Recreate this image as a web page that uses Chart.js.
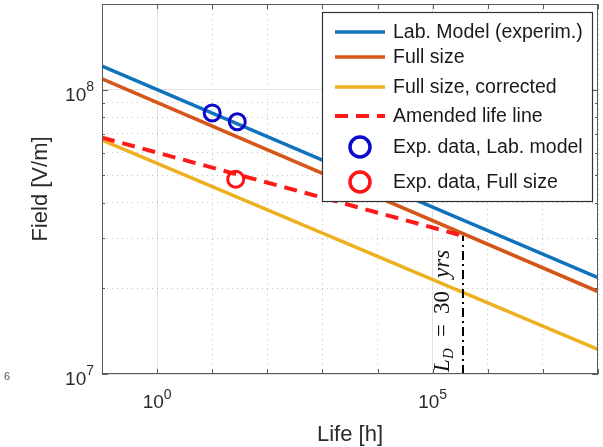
<!DOCTYPE html>
<html>
<head>
<meta charset="utf-8">
<script src="https://cdn.jsdelivr.net/npm/chart.js@4.4.0/dist/chart.umd.min.js"></script>
<style>
  html, body { margin: 0; padding: 0; background: #fff; }
</style>
</head>
<body>
<canvas id="lifeChart" width="603" height="447"></canvas>
<script>
// life [h] at the two ends of each life line
const lifeEnds = [0.1, 1e8];
const labModel = [1.21e8, 2.18e7];
const fullSize = [1.09e8, 1.95e7];
const fullSizeCorrected = [6.65e7, 1.22e7];
// amended line stops at the design life
const amendedLife = [0.1, 3.55e5];
const amendedField = [6.78e7, 3.06e7];
const expLabLife = [10, 28.5];
const expLabField = [8.28e7, 7.71e7];
const expFullLife = [26.7];
const expFullField = [4.84e7];
const designLife = 3.55e5;
const designField = [1e7, 3.06e7];

const xMajorTicks = [1, 1e5];
const xMinorTicks = [0.1, 10, 100, 1000, 1e4, 1e6, 1e7, 1e8];
const yMajorTicks = [1e7, 1e8];
const yMinorTicks = [2e7, 3e7, 4e7, 5e7, 6e7, 7e7, 8e7, 9e7, 2e8];
const xTickExp = ['0', '5'];
const yTickExp = ['7', '8'];

const FONT = '"Liberation Sans", Arial, sans-serif';

function pts(xs, ys) {
  return xs.map((x, i) => ({ x: x, y: ys[i] }));
}

const lineSet = (label, ys, color, order) => ({
  label: label, data: pts(lifeEnds, ys), showLine: true,
  borderColor: color, borderWidth: 3.5, pointRadius: 0, order: order
});

const datasets = [
  lineSet('Lab. Model (experim.)', labModel, '#0f72bd', 7),
  lineSet('Full size', fullSize, '#d65519', 6),
  lineSet('Full size, corrected', fullSizeCorrected, '#edb120', 5),
  {
    label: 'Amended life line', data: pts(amendedLife, amendedField), showLine: true,
    borderColor: '#ff1a1a', borderWidth: 4, borderDash: [13, 8], pointRadius: 0, order: 4
  },
  {
    label: 'Exp. data, Lab. model', data: pts(expLabLife, expLabField),
    borderColor: '#0a0ac8', backgroundColor: 'rgba(0,0,0,0)', borderWidth: 3,
    pointRadius: 8, order: 3
  },
  {
    label: 'Exp. data, Full size', data: pts(expFullLife, expFullField),
    borderColor: '#ff1414', backgroundColor: 'rgba(0,0,0,0)', borderWidth: 3,
    pointRadius: 8, order: 2
  },
  {
    label: 'design life', data: pts([designLife, designLife], designField), showLine: true,
    borderColor: '#000', borderWidth: 2, borderDash: [9, 4, 2, 4], pointRadius: 0,
    order: 1, noLegend: true
  }
];

const setTicks = list => scale => { scale.ticks = list.map(v => ({ value: v })); };

// box, inward ticks, tick labels, axis titles
const frame = {
  id: 'frame',
  afterDraw(chart) {
    const { ctx, chartArea: a, scales } = chart;
    ctx.save();
    ctx.strokeStyle = '#5c5c5c';
    ctx.lineWidth = 1;
    ctx.strokeRect(a.left + 0.5, a.top + 0.5, a.right - a.left - 1, a.bottom - a.top - 1);
    ctx.beginPath();
    xMajorTicks.concat(xMinorTicks).forEach(v => {
      const px = Math.round(scales.x.getPixelForValue(v)) + 0.5;
      ctx.moveTo(px, a.bottom); ctx.lineTo(px, a.bottom - 5);
      ctx.moveTo(px, a.top); ctx.lineTo(px, a.top + 5);
    });
    yMajorTicks.forEach(v => {
      const py = Math.round(scales.y.getPixelForValue(v)) + 0.5;
      ctx.moveTo(a.left, py); ctx.lineTo(a.left + 6, py);
      ctx.moveTo(a.right, py); ctx.lineTo(a.right - 6, py);
    });
    yMinorTicks.forEach(v => {
      const py = Math.round(scales.y.getPixelForValue(v)) + 0.5;
      ctx.moveTo(a.left, py); ctx.lineTo(a.left + 3, py);
      ctx.moveTo(a.right, py); ctx.lineTo(a.right - 3, py);
    });
    ctx.stroke();

    ctx.fillStyle = '#2b2b2b';
    ctx.textBaseline = 'alphabetic';
    xMajorTicks.forEach((v, i) => {
      const px = scales.x.getPixelForValue(v);
      ctx.font = '19px ' + FONT;
      const w1 = ctx.measureText('10').width;
      ctx.font = '14px ' + FONT;
      const w2 = ctx.measureText(xTickExp[i]).width;
      const x0 = px - (w1 + w2) / 2;
      ctx.font = '19px ' + FONT;
      ctx.fillText('10', x0, 408);
      ctx.font = '14px ' + FONT;
      ctx.fillText(xTickExp[i], x0 + w1, 399);
    });
    yMajorTicks.forEach((v, i) => {
      const py = scales.y.getPixelForValue(v);
      ctx.font = '14px ' + FONT;
      const w2 = ctx.measureText(yTickExp[i]).width;
      ctx.font = '19px ' + FONT;
      const w1 = ctx.measureText('10').width;
      const x0 = 94 - w1 - w2;
      ctx.fillText('10', x0, py + 11);
      ctx.font = '14px ' + FONT;
      ctx.fillText(yTickExp[i], x0 + w1, py + 1);
    });

    ctx.font = '22px ' + FONT;
    ctx.textAlign = 'center';
    ctx.fillText('Life [h]', (a.left + a.right) / 2, 441);
    ctx.save();
    ctx.translate(47, (a.top + a.bottom) / 2);
    ctx.rotate(-Math.PI / 2);
    ctx.fillText('Field [V/m]', 0, 0);
    ctx.restore();

    ctx.textAlign = 'left';
    ctx.fillStyle = '#555';
    ctx.font = '11px ' + FONT;
    ctx.fillText('6', 4, 380);
    ctx.restore();
  }
};

// design life label along the dash-dot line
const lifeLabel = {
  id: 'lifeLabel',
  afterDatasetsDraw(chart) {
    const { ctx, chartArea: a, scales } = chart;
    const bx = scales.x.getPixelForValue(designLife) - 14;
    ctx.save();
    ctx.translate(bx, a.bottom - 2);
    ctx.rotate(-Math.PI / 2);
    ctx.fillStyle = '#111';
    ctx.textBaseline = 'alphabetic';
    const serif = '"Liberation Serif", "DejaVu Serif", serif';
    ctx.font = 'italic 23px ' + serif;
    ctx.fillText('L', 0, 0);
    ctx.font = 'italic 15px ' + serif;
    ctx.fillText('D', 13, 4);
    ctx.font = '23px ' + serif;
    ctx.fillText('=', 35, 0);
    ctx.fillText('30', 58, 0);
    ctx.font = 'italic 23px ' + serif;
    ctx.fillText('yrs', 94, 0);
    ctx.restore();
  }
};

// boxed legend in the upper right corner
const boxLegend = {
  id: 'boxLegend',
  afterDraw(chart) {
    const { ctx } = chart;
    const rows = [32, 57, 87, 116, 147, 182];
    ctx.save();
    ctx.fillStyle = '#fff';
    ctx.fillRect(322, 12, 271, 190);
    ctx.strokeStyle = '#333';
    ctx.lineWidth = 1.2;
    ctx.strokeRect(322.5, 12.5, 270, 189);
    ctx.font = '19.5px ' + FONT;
    ctx.textBaseline = 'middle';
    chart.data.datasets.filter(d => !d.noLegend).forEach((d, i) => {
      const y = rows[i];
      ctx.strokeStyle = d.borderColor;
      ctx.lineWidth = d.borderWidth;
      if (d.showLine) {
        ctx.setLineDash(d.borderDash || []);
        ctx.beginPath();
        ctx.moveTo(335, y); ctx.lineTo(385, y);
        ctx.stroke();
        ctx.setLineDash([]);
      } else {
        ctx.lineWidth = 3.5;
        ctx.beginPath();
        ctx.arc(360, y, 10, 0, Math.PI * 2);
        ctx.stroke();
      }
      ctx.fillStyle = '#1a1a1a';
      ctx.fillText(d.label, 393, y + 1);
    });
    ctx.restore();
  }
};

const logAxis = (min, max, extra) => Object.assign({
  type: 'logarithmic', min: min, max: max,
  ticks: { display: false },
  border: { display: false }
}, extra);

new Chart(document.getElementById('lifeChart'), {
  type: 'scatter',
  data: { datasets: datasets },
  options: {
    responsive: false,
    animation: false,
    layout: { autoPadding: false, padding: { top: 4, right: 5, left: 0, bottom: 0 } },
    plugins: { legend: { display: false }, tooltip: { enabled: false } },
    scales: {
      x: logAxis(0.1, 1e8, {
        position: 'bottom',
        afterBuildTicks: setTicks(xMajorTicks),
        afterFit: s => { s.height = 73; },
        grid: { color: '#e2e2e2', drawTicks: false }
      }),
      xMinor: logAxis(0.1, 1e8, {
        position: 'bottom',
        afterBuildTicks: setTicks(xMinorTicks),
        afterFit: s => { s.height = 0; },
        grid: { color: '#c2c2c2', drawTicks: false },
        border: { display: false, dash: [1, 4] }
      }),
      y: logAxis(1e7, 2e8, {
        position: 'left',
        afterBuildTicks: setTicks(yMajorTicks),
        afterFit: s => { s.width = 102; },
        grid: { color: '#e2e2e2', drawTicks: false }
      }),
      yMinor: logAxis(1e7, 2e8, {
        position: 'left',
        afterBuildTicks: setTicks(yMinorTicks),
        afterFit: s => { s.width = 0; },
        grid: { color: '#c2c2c2', drawTicks: false },
        border: { display: false, dash: [1, 4] }
      })
    }
  },
  plugins: [lifeLabel, frame, boxLegend]
});
</script>
</body>
</html>
